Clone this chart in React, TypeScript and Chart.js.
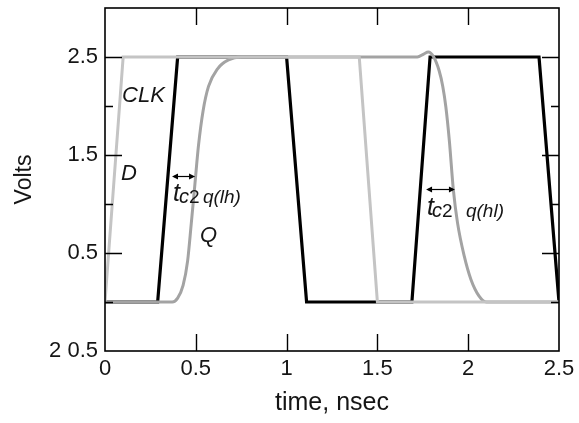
import React, { useEffect, useRef } from 'react';
import { Chart, registerables } from 'chart.js';

Chart.register(...registerables);

// ---- data (time in ns, volts) ----
const clkTime = [0, 0.29, 0.40, 1.0, 1.11, 1.69, 1.79, 2.39, 2.5];
const clkVolts = [0, 0, 2.5, 2.5, 0, 0, 2.5, 2.5, 0];

const dTime = [0, 0.1, 1.4, 1.5, 2.5];
const dVolts = [0, 2.5, 2.5, 0, 0];

const qTime = [0, 0.37, 0.40, 0.43, 0.455, 0.475, 0.495, 0.515, 0.54, 0.57, 0.62, 0.68, 0.75,
  1.72, 1.755, 1.78, 1.81, 1.84, 1.86, 1.877, 1.896, 1.918, 1.941, 1.978, 2.015, 2.06, 2.1, 2.5];
const qVolts = [0, 0, 0.04, 0.17, 0.42, 0.8, 1.2, 1.6, 1.95, 2.2, 2.38, 2.47, 2.5,
  2.5, 2.53, 2.55, 2.5, 2.36, 2.2, 1.99, 1.65, 1.15, 0.81, 0.47, 0.23, 0.06, 0, 0];

const xTickValues = [0, 0.5, 1, 1.5, 2, 2.5];
const xTickLabels = ['0', '0.5', '1', '1.5', '2', '2.5'];
const yTickValues = [-0.5, 0, 0.5, 1, 1.5, 2, 2.5, 3];
const yTickLabels = ['2 0.5', '', '0.5', '', '1.5', '', '2.5', ''];

// ---- annotations (anchored in data coordinates) ----
const plainLabels = [
  { text: 'CLK', t: 0.094, v: 2.04 },
  { text: 'D', t: 0.088, v: 1.245 },
  { text: 'Q', t: 0.523, v: 0.61 },
];
const delayLabels = [
  { t: 0.374, v: 1.03, sub1: 'c', sub2: '2', sub3: 'q(lh)', dx: [6, 16, 30] },
  { t: 1.773, v: 0.888, sub1: 'c', sub2: '2', sub3: 'q(hl)', dx: [5, 15, 39] },
];
const arrows = [
  { t1: 0.369, t2: 0.496, v: 1.286 },
  { t1: 1.768, t2: 1.927, v: 1.153 },
];

const FONT = "'Liberation Sans', Arial, Helvetica, sans-serif";
const TEXT = '#151515';

const toPts = (ts: number[], vs: number[]) => ts.map((t, i) => ({ x: t, y: vs[i] }));

const framePlugin = {
  id: 'frameTicks',
  afterDatasetsDraw(chart: any) {
    const { ctx, chartArea, scales } = chart;
    const { left, right, top, bottom } = chartArea;
    const x = scales.x;
    const y = scales.y;
    ctx.save();
    ctx.strokeStyle = '#000';
    ctx.lineWidth = 1.6;
    ctx.strokeRect(left, top, right - left, bottom - top);
    ctx.lineWidth = 1.4;
    ctx.beginPath();
    xTickValues.forEach((v) => {
      if (v === xTickValues[0] || v === xTickValues[xTickValues.length - 1]) return;
      const px = Math.round(x.getPixelForValue(v)) + 0.5;
      ctx.moveTo(px, bottom);
      ctx.lineTo(px, bottom - 17);
      ctx.moveTo(px, top);
      ctx.lineTo(px, top + 17);
    });
    yTickValues.forEach((v, i) => {
      if (i === 0 || i === yTickValues.length - 1) return;
      const len = yTickLabels[i] ? 17 : 8;
      const py = Math.round(y.getPixelForValue(v)) + 0.5;
      ctx.moveTo(left, py);
      ctx.lineTo(left + len, py);
      ctx.moveTo(right, py);
      ctx.lineTo(right - len, py);
    });
    ctx.stroke();
    ctx.restore();
  },
};

const annotationPlugin = {
  id: 'annotations',
  afterDraw(chart: any) {
    const { ctx, scales } = chart;
    const x = scales.x;
    const y = scales.y;
    ctx.save();
    ctx.fillStyle = TEXT;
    ctx.textBaseline = 'alphabetic';
    ctx.textAlign = 'left';
    ctx.font = `italic 22px ${FONT}`;
    plainLabels.forEach((l) => {
      ctx.fillText(l.text, x.getPixelForValue(l.t), y.getPixelForValue(l.v));
    });
    delayLabels.forEach((l) => {
      const px = x.getPixelForValue(l.t);
      const py = y.getPixelForValue(l.v);
      ctx.font = `italic 25px ${FONT}`;
      ctx.fillText('t', px, py);
      ctx.font = `italic 20px ${FONT}`;
      ctx.fillText(l.sub1, px + l.dx[0], py + 2);
      ctx.font = `19px ${FONT}`;
      ctx.fillText(l.sub2, px + l.dx[1], py + 2);
      ctx.font = `italic 19px ${FONT}`;
      ctx.fillText(l.sub3, px + l.dx[2], py + 2);
    });
    ctx.strokeStyle = '#000';
    ctx.fillStyle = '#000';
    ctx.lineWidth = 1.2;
    arrows.forEach((a) => {
      const x1 = x.getPixelForValue(a.t1);
      const x2 = x.getPixelForValue(a.t2);
      const py = Math.round(y.getPixelForValue(a.v)) + 0.5;
      ctx.beginPath();
      ctx.moveTo(x1 + 2, py);
      ctx.lineTo(x2 - 2, py);
      ctx.stroke();
      ctx.beginPath();
      ctx.moveTo(x1, py);
      ctx.lineTo(x1 + 6, py - 3);
      ctx.lineTo(x1 + 6, py + 3);
      ctx.closePath();
      ctx.moveTo(x2, py);
      ctx.lineTo(x2 - 6, py - 3);
      ctx.lineTo(x2 - 6, py + 3);
      ctx.closePath();
      ctx.fill();
    });
    ctx.restore();
  },
};

export default function App() {
  const ref = useRef<HTMLCanvasElement | null>(null);

  useEffect(() => {
    if (!ref.current) return;
    const chart = new Chart(ref.current, {
      type: 'line',
      data: {
        datasets: [
          {
            label: 'D',
            data: toPts(dTime, dVolts),
            borderColor: '#c4c4c4',
            borderWidth: 3,
            pointRadius: 0,
            tension: 0,
            order: 0,
          },
          {
            label: 'Q',
            data: toPts(qTime, qVolts),
            borderColor: '#a3a3a3',
            borderWidth: 3,
            pointRadius: 0,
            cubicInterpolationMode: 'monotone',
            order: 1,
          },
          {
            label: 'CLK',
            data: toPts(clkTime, clkVolts),
            borderColor: '#000000',
            borderWidth: 3.2,
            pointRadius: 0,
            tension: 0,
            order: 2,
          },
        ],
      },
      options: {
        responsive: false,
        animation: false,
        events: [],
        layout: { padding: { left: 0, top: 8, right: 41, bottom: 0 } },
        plugins: { legend: { display: false }, tooltip: { enabled: false } },
        scales: {
          x: {
            type: 'linear',
            min: 0,
            max: 2.5,
            afterBuildTicks: (s: any) => {
              s.ticks = xTickValues.map((v) => ({ value: v }));
            },
            afterFit: (s: any) => {
              s.height = 72;
              s.paddingLeft = 0;
              s.paddingRight = 0;
            },
            grid: { display: false, drawTicks: false },
            border: { display: false },
            ticks: {
              autoSkip: false,
              maxRotation: 0,
              padding: 5,
              color: TEXT,
              font: { family: FONT, size: 22 },
              callback: (_v: any, i: number) => xTickLabels[i],
            },
            title: {
              display: true,
              text: 'time, nsec',
              color: TEXT,
              font: { family: FONT, size: 25 },
              padding: { top: 0, bottom: 5 },
            },
          },
          y: {
            type: 'linear',
            min: -0.5,
            max: 3,
            afterBuildTicks: (s: any) => {
              s.ticks = yTickValues.map((v) => ({ value: v }));
            },
            afterFit: (s: any) => {
              s.width = 105;
              s.paddingTop = 0;
              s.paddingBottom = 0;
            },
            grid: { display: false, drawTicks: false },
            border: { display: false },
            ticks: {
              autoSkip: false,
              padding: 7,
              color: TEXT,
              font: { family: FONT, size: 22 },
              callback: (_v: any, i: number) => yTickLabels[i],
            },
            title: {
              display: true,
              text: 'Volts',
              color: TEXT,
              font: { family: FONT, size: 23 },
              padding: { top: 11, bottom: 0 },
            },
          },
        },
      },
      plugins: [framePlugin, annotationPlugin],
    });
    return () => chart.destroy();
  }, []);

  return (
    <div
      style={{
        position: 'fixed',
        left: 0,
        top: 0,
        width: 579,
        height: 423,
        overflow: 'hidden',
        background: '#fff',
      }}
    >
      <canvas ref={ref} width={600} height={423} />
    </div>
  );
}
